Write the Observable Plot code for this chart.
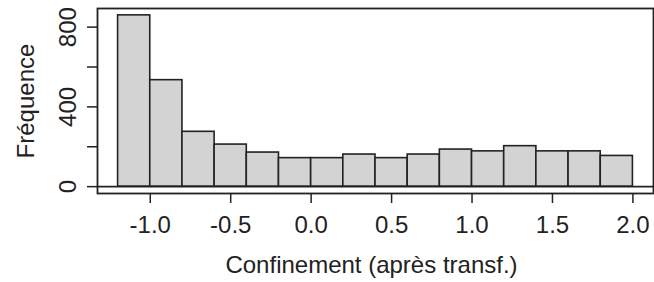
<!DOCTYPE html>
<html>
<head>
<meta charset="utf-8">
<script src="https://cdn.jsdelivr.net/npm/d3@7"></script>
<script src="https://cdn.jsdelivr.net/npm/@observablehq/plot@0.6"></script>
<style>
  html, body { margin: 0; padding: 0; background: #fff; }
  #chart svg { display: block; }
</style>
</head>
<body>
<div id="chart"></div>
<script>
// Histogram bin edges and counts
const breaks = [-1.2, -1.0, -0.8, -0.6, -0.4, -0.2, 0.0, 0.2, 0.4, 0.6, 0.8, 1.0, 1.2, 1.4, 1.6, 1.8, 2.0];
const counts = [859, 534, 275, 211, 171, 143, 143, 161, 143, 161, 186, 177, 203, 177, 177, 154];
const xTicks = [-1.0, -0.5, 0.0, 0.5, 1.0, 1.5, 2.0];
const xTickLabels = ["-1.0", "-0.5", "0.0", "0.5", "1.0", "1.5", "2.0"];
const yTicks = [0, 200, 400, 600, 800];
const yTickLabels = ["0", "", "400", "", "800"];
const xTitle = "Confinement (après transf.)";
const yTitle = "Fréquence";

const bins = counts.map((c, i) => ({x1: breaks[i], x2: breaks[i + 1], count: c}));
const xMin = breaks[0], xMax = breaks[breaks.length - 1];
const xPad = (xMax - xMin) * 0.04;
const yMax = d3.max(counts);
const yPad = yMax * 0.04;

const font = "Liberation Sans, Arial, Helvetica, sans-serif";
const fs = 24;
const ink = "#222";

const chart = Plot.plot({
  width: 654,
  height: 282,
  marginLeft: 97,
  marginRight: 1,
  marginTop: 8,
  marginBottom: 89,
  style: {fontFamily: font, fontSize: fs + "px", background: "#fff", color: ink},
  x: {domain: [xMin - xPad, xMax + xPad], axis: null},
  y: {domain: [-yPad, yMax + yPad], axis: null},
  marks: [
    Plot.rectY(bins, {x1: "x1", x2: "x2", y1: 0, y2: "count", fill: "#d3d3d3", stroke: ink, strokeWidth: 1.6}),
    Plot.ruleY([0], {stroke: ink, strokeWidth: 1.6}),
    Plot.frame({stroke: ink, strokeWidth: 1.8}),
    // y axis ticks
    Plot.axisY(yTicks, {anchor: "left", tickSize: 10, tickFormat: () => "", label: null, stroke: ink, strokeWidth: 1.5}),
    Plot.text(yTicks, {y: d => d, text: (d, i) => yTickLabels[i], frameAnchor: "left", dx: -22, rotate: -90, textAnchor: "middle", lineAnchor: "bottom", fontSize: fs, fill: ink}),
    // x axis ticks
    Plot.axisX(xTicks, {anchor: "bottom", tickSize: 10, tickFormat: () => "", label: null, stroke: ink, strokeWidth: 1.5}),
    Plot.text(xTicks, {x: d => d, text: (d, i) => xTickLabels[i], frameAnchor: "bottom", dy: 39, textAnchor: "middle", lineAnchor: "bottom", fontSize: fs, fill: ink}),
    // titles
    Plot.text([xTitle], {x: (xMin + xMax) / 2, text: d => d, frameAnchor: "bottom", dy: 79, dx: -4, textAnchor: "middle", lineAnchor: "bottom", fontSize: fs, fill: ink}),
    Plot.text([yTitle], {y: yMax / 2, text: d => d, frameAnchor: "left", dx: -64, rotate: -90, textAnchor: "middle", lineAnchor: "bottom", fontSize: fs, fill: ink})
  ]
});
document.getElementById("chart").appendChild(chart);
</script>
</body>
</html>
